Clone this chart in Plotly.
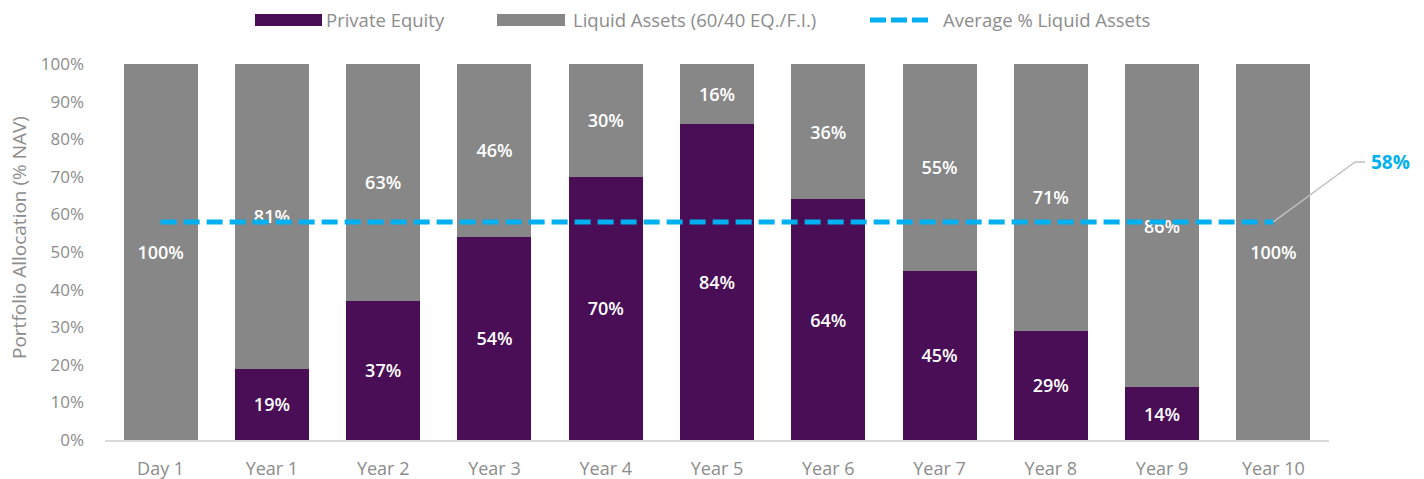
import plotly.graph_objects as go

categories = ["Day 1", "Year 1", "Year 2", "Year 3", "Year 4", "Year 5",
              "Year 6", "Year 7", "Year 8", "Year 9", "Year 10"]
private_equity = [0, 19, 37, 54, 70, 84, 64, 45, 29, 14, 0]
liquid_assets = [100, 81, 63, 46, 30, 16, 36, 55, 71, 86, 100]
avg_liquid = 58
series_names = ["Private Equity", "Liquid Assets (60/40 EQ./F.I.)", "Average % Liquid Assets"]
y_title = "Portfolio Allocation (% NAV)"

PURPLE = "#490E56"
GREY = "#878787"
CYAN = "#00B0F0"
TXT = "#8C8C8C"
FONT = "Open Sans"

W, H = 1424, 479
ML, MR, MT, MB = 105, 95, 64, 39
PW = W - ML - MR
PH = H - MT - MB


def px_x(p):
    return (p - ML) / PW


def px_y(p):
    return 1 + (MT - p) / PH


def labels(vals):
    return [f"{v}%" if v > 0 else "" for v in vals]


fig = go.Figure()
fig.add_trace(go.Bar(
    x=categories, y=private_equity, name=series_names[0],
    marker=dict(color=PURPLE, line=dict(width=0)),
    text=labels(private_equity), textposition="inside", insidetextanchor="middle",
    textfont=dict(color="white", size=18, family=FONT, weight=600),
    constraintext="none", hoverinfo="skip", showlegend=False,
))
fig.add_trace(go.Bar(
    x=categories, y=liquid_assets, name=series_names[1],
    marker=dict(color=GREY, line=dict(width=0)),
    text=labels(liquid_assets), textposition="inside", insidetextanchor="middle",
    textfont=dict(color="white", size=18, family=FONT, weight=600),
    constraintext="none", hoverinfo="skip", showlegend=False,
))
fig.add_trace(go.Scatter(
    x=categories, y=[avg_liquid] * len(categories), mode="lines",
    name=series_names[2],
    line=dict(color=CYAN, width=5, dash="16px,7px"),
    hoverinfo="skip", showlegend=False,
))

# leader line + label for the average
avg_paper = avg_liquid / 100.0
n = len(categories)
x_last = (n - 0.5) / n
fig.add_shape(type="line", xref="paper", yref="paper",
              x0=x_last, y0=avg_paper, x1=px_x(1355), y1=px_y(162),
              line=dict(color="#BFBFBF", width=1.5))
fig.add_shape(type="line", xref="paper", yref="paper",
              x0=px_x(1355), y0=px_y(162), x1=px_x(1365), y1=px_y(162),
              line=dict(color="#BFBFBF", width=1.5))
fig.add_annotation(xref="paper", yref="paper", x=px_x(1369), y=px_y(162),
                   xanchor="left", yanchor="middle", showarrow=False,
                   text=f"{avg_liquid}%",
                   font=dict(color=CYAN, size=19, family=FONT, weight="bold"))

# legend (drawn manually to match wide swatches)
ly = px_y(20)
fig.add_shape(type="rect", xref="paper", yref="paper",
              x0=px_x(255), x1=px_x(322), y0=px_y(26), y1=px_y(14),
              fillcolor=PURPLE, line=dict(width=0))
fig.add_shape(type="rect", xref="paper", yref="paper",
              x0=px_x(497), x1=px_x(565), y0=px_y(26), y1=px_y(14),
              fillcolor=GREY, line=dict(width=0))
fig.add_shape(type="line", xref="paper", yref="paper",
              x0=px_x(870), x1=px_x(928), y0=ly, y1=ly,
              line=dict(color=CYAN, width=5, dash="16px,5px"))
for name, xl in zip(series_names, [324, 571, 941]):
    fig.add_annotation(xref="paper", yref="paper", x=px_x(xl), y=ly,
                       xanchor="left", yanchor="middle", showarrow=False,
                       text=name, font=dict(size=18.5, color=TXT, family=FONT))

# y-axis title
fig.add_annotation(xref="paper", yref="paper", x=px_x(19), y=px_y(238),
                   xanchor="center", yanchor="middle", showarrow=False,
                   textangle=-90, text=y_title,
                   font=dict(size=19, color=TXT, family=FONT))

fig.update_layout(
    width=W, height=H,
    barmode="stack", bargap=0.335,
    plot_bgcolor="white", paper_bgcolor="white",
    margin=dict(l=ML, r=MR, t=MT, b=MB, autoexpand=False),
    font=dict(family=FONT, color=TXT, size=16),
    showlegend=False,
    xaxis=dict(showgrid=False, showline=True, linecolor="#D9D9D9", linewidth=1.5,
               ticks="", tickfont=dict(size=18, color=TXT), ticklabelstandoff=12,
               automargin=False),
    yaxis=dict(range=[0, 100], dtick=10, ticksuffix="%", showgrid=False,
               zeroline=False, showline=False, ticks="", automargin=False,
               tickfont=dict(size=17, color=TXT), ticklabelstandoff=20),
)

fig.write_html("out.html", config={"displayModeBar": False},
               post_script="document.body.style.margin='0';document.body.style.overflow='hidden';")
